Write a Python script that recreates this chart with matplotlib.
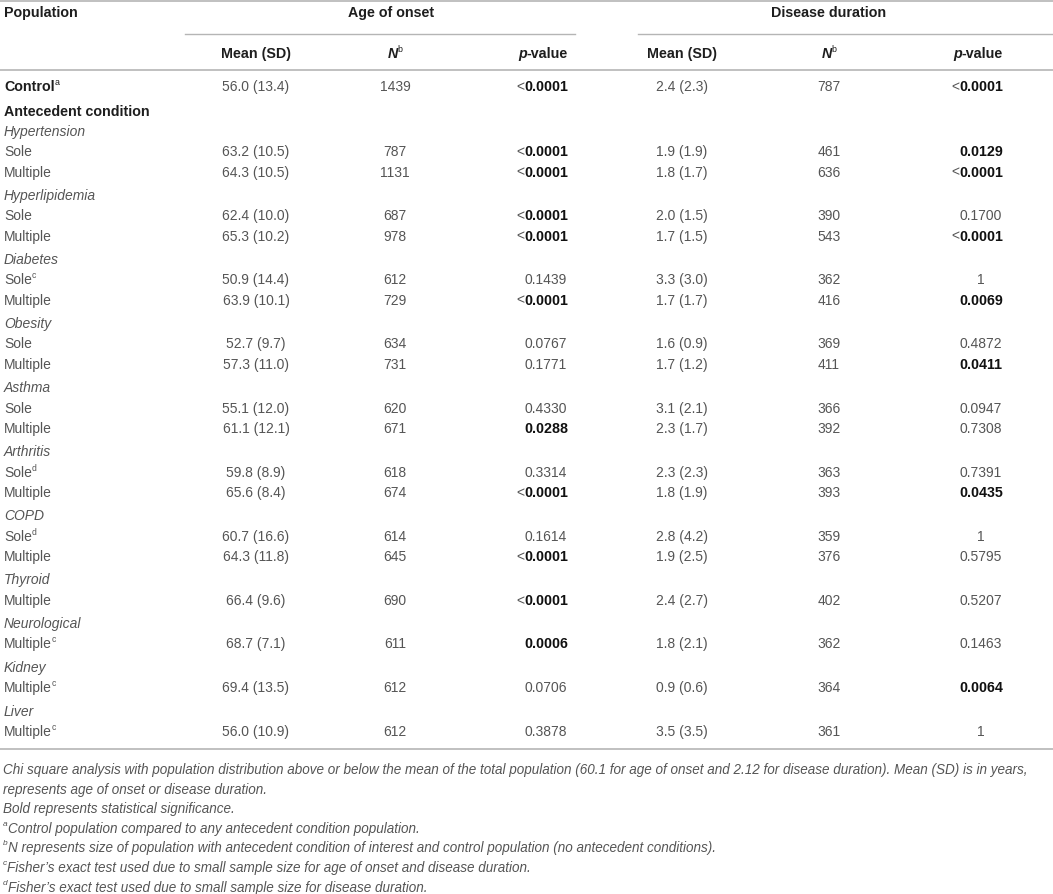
import matplotlib
matplotlib.use("Agg")
import matplotlib.pyplot as plt
from matplotlib import font_manager

# ---------------- data ----------------
control_label = "Control"
control_sup = "a"
control_age_mean = "56.0 (13.4)"
control_age_n = "1439"
control_age_p = "<0.0001"
control_dis_mean = "2.4 (2.3)"
control_dis_n = "787"
control_dis_p = "<0.0001"

groups = ["Hypertension", "Hyperlipidemia", "Diabetes", "Obesity", "Asthma",
          "Arthritis", "COPD", "Thyroid", "Neurological", "Kidney", "Liver"]

row_group = [0, 0, 1, 1, 2, 2, 3, 3, 4, 4, 5, 5, 6, 6, 7, 8, 9, 10]
row_label = ["Sole", "Multiple", "Sole", "Multiple", "Sole", "Multiple",
             "Sole", "Multiple", "Sole", "Multiple", "Sole", "Multiple",
             "Sole", "Multiple", "Multiple", "Multiple", "Multiple", "Multiple"]
row_sup = ["", "", "", "", "c", "", "", "", "", "", "d", "", "d", "", "", "c", "c", "c"]

age_mean = ["63.2 (10.5)", "64.3 (10.5)", "62.4 (10.0)", "65.3 (10.2)", "50.9 (14.4)",
            "63.9 (10.1)", "52.7 (9.7)", "57.3 (11.0)", "55.1 (12.0)", "61.1 (12.1)",
            "59.8 (8.9)", "65.6 (8.4)", "60.7 (16.6)", "64.3 (11.8)", "66.4 (9.6)",
            "68.7 (7.1)", "69.4 (13.5)", "56.0 (10.9)"]
age_n = ["787", "1131", "687", "978", "612", "729", "634", "731", "620", "671",
         "618", "674", "614", "645", "690", "611", "612", "612"]
age_p = ["<0.0001", "<0.0001", "<0.0001", "<0.0001", "0.1439", "<0.0001", "0.0767",
         "0.1771", "0.4330", "0.0288", "0.3314", "<0.0001", "0.1614", "<0.0001",
         "<0.0001", "0.0006", "0.0706", "0.3878"]

dis_mean = ["1.9 (1.9)", "1.8 (1.7)", "2.0 (1.5)", "1.7 (1.5)", "3.3 (3.0)", "1.7 (1.7)",
            "1.6 (0.9)", "1.7 (1.2)", "3.1 (2.1)", "2.3 (1.7)", "2.3 (2.3)", "1.8 (1.9)",
            "2.8 (4.2)", "1.9 (2.5)", "2.4 (2.7)", "1.8 (2.1)", "0.9 (0.6)", "3.5 (3.5)"]
dis_n = ["461", "636", "390", "543", "362", "416", "369", "411", "366", "392",
         "363", "393", "359", "376", "402", "362", "364", "361"]
dis_p = ["0.0129", "<0.0001", "0.1700", "<0.0001", "1", "0.0069", "0.4872", "0.0411",
         "0.0947", "0.7308", "0.7391", "0.0435", "1", "0.5795", "0.5207", "0.1463",
         "0.0064", "1"]

footnotes = [
    [("", "Chi square analysis with population distribution above or below the mean of the total population (60.1 for age of onset and 2.12 for disease duration). Mean (SD) is in years,")],
    [("", "represents age of onset or disease duration.")],
    [("", "Bold represents statistical significance.")],
    [("a", "Control population compared to any antecedent condition population.")],
    [("b", "N represents size of population with antecedent condition of interest and control population (no antecedent conditions).")],
    [("c", "Fisher\u2019s exact test used due to small sample size for age of onset and disease duration.")],
    [("d", "Fisher\u2019s exact test used due to small sample size for disease duration.")],
]

# ---------------- style ----------------
W, H = 1053, 895
names = {f.name for f in font_manager.fontManager.ttflist}
BODY = "Liberation Sans" if "Liberation Sans" in names else "DejaVu Sans"
NARROW = "Liberation Sans Narrow" if "Liberation Sans Narrow" in names else BODY

C_HEAD = "#1e1e1e"
C_BODY = "#555555"
C_SIG = "#111111"
C_LINE = "#b5b5b5"
FS = 10.0
FS_B = 10.3
FS_FOOT = 9.0

fig = plt.figure(figsize=(W / 100, H / 100), dpi=100)
ax = fig.add_axes([0, 0, 1, 1])
ax.set_xlim(0, W)
ax.set_ylim(H, 0)
ax.axis("off")
fig.canvas.draw()
renderer = fig.canvas.get_renderer()


def width_of(t):
    bb = t.get_window_extent(renderer)
    return bb.width


def runs(x, y, parts, ha="left"):
    """parts: list of (text, dict) ; dict may contain 'sup': True"""
    arts = []
    total = 0
    for s, kw in parts:
        kw = dict(kw)
        sup = kw.pop("sup", False)
        fs = kw.pop("fontsize", FS)
        if sup:
            fs = fs * 0.62
        t = ax.text(0, 0, s, fontsize=fs, va="center", ha="left",
                    family=kw.pop("family", BODY), **kw)
        w = width_of(t)
        arts.append((t, w, sup))
        total += w
    if ha == "left":
        cx = x
    elif ha == "center":
        cx = x - total / 2
    else:
        cx = x - total
    for t, w, sup in arts:
        t.set_position((cx, y - (4.5 if sup else 0)))
        cx += w
    return total


def pval(xc, y, s):
    less = s.startswith("<")
    num = s[1:] if less else s
    v = float(num)
    sig = v < 0.05
    kw = dict(fontsize=FS_B if sig else FS, color=C_SIG if sig else C_BODY,
              weight="bold" if sig else "normal")
    t = ax.text(xc, y, num, ha="center", va="center", family=BODY, **kw)
    if less:
        w = width_of(t)
        ax.text(xc - w / 2, y, "<", ha="right", va="center", family=BODY,
                fontsize=FS, color=C_BODY)


# column positions
X_LABEL = 4
X_AGE_MEAN, X_AGE_N, X_AGE_P = 256, 395, 546
X_DIS_MEAN, X_DIS_N, X_DIS_P = 682, 829, 981

# rules
ax.plot([0, W], [1.5, 1.5], color=C_LINE, lw=1.2)
ax.plot([185, 575], [35, 35], color=C_LINE, lw=1.0)
ax.plot([638, W], [35, 35], color=C_LINE, lw=1.0)
ax.plot([0, W], [71, 71], color=C_LINE, lw=1.2)
ax.plot([0, W], [750, 750], color=C_LINE, lw=1.2)

# header
hb = dict(fontsize=FS_B, weight="bold", color=C_HEAD)
runs(X_LABEL, 13, [("Population", hb)])
runs(X_AGE_N - 4, 13, [("Age of onset", hb)], ha="center")
runs(X_DIS_N, 13, [("Disease duration", hb)], ha="center")
for xm, xn, xp in [(X_AGE_MEAN, X_AGE_N, X_AGE_P), (X_DIS_MEAN, X_DIS_N, X_DIS_P)]:
    runs(xm, 54, [("Mean (SD)", hb)], ha="center")
    runs(xn, 54, [("N", dict(hb, style="italic")), ("b", dict(hb, weight="normal", sup=True))], ha="center")
    runs(xp + 22, 54, [("p", dict(hb, style="italic")), ("-value", hb)], ha="right")

body = dict(fontsize=FS, color=C_BODY)

# control row
yc = 87
runs(X_LABEL, yc, [(control_label, hb), (control_sup, dict(hb, weight="normal", sup=True))])
runs(X_AGE_MEAN, yc, [(control_age_mean, body)], ha="center")
runs(X_AGE_N, yc, [(control_age_n, body)], ha="center")
pval(X_AGE_P, yc, control_age_p)
runs(X_DIS_MEAN, yc, [(control_dis_mean, body)], ha="center")
runs(X_DIS_N, yc, [(control_dis_n, body)], ha="center")
pval(X_DIS_P, yc, control_dis_p)

runs(X_LABEL, 112, [("Antecedent condition", hb)])

# body rows
ROW = 20.18
GAP = 23.68
y = 112
prev_g = None
for i in range(len(row_label)):
    g = row_group[i]
    if g != prev_g:
        y += ROW if prev_g is None else GAP
        runs(X_LABEL, y, [(groups[g], dict(body, style="italic"))])
        prev_g = g
    y += ROW
    parts = [(row_label[i], body)]
    if row_sup[i]:
        parts.append((row_sup[i], dict(body, sup=True)))
    runs(X_LABEL, y, parts)
    runs(X_AGE_MEAN, y, [(age_mean[i], body)], ha="center")
    runs(X_AGE_N, y, [(age_n[i], body)], ha="center")
    pval(X_AGE_P, y, age_p[i])
    runs(X_DIS_MEAN, y, [(dis_mean[i], body)], ha="center")
    runs(X_DIS_N, y, [(dis_n[i], body)], ha="center")
    pval(X_DIS_P, y, dis_p[i])

# footnotes: fit first line to width of the table text
probe = ax.text(0, 0, footnotes[0][0][1], fontsize=FS_FOOT, family=NARROW, style="italic")
scale = 1033 / width_of(probe)
probe.remove()
fs_foot = FS_FOOT * scale
fk = dict(fontsize=fs_foot, family=NARROW, style="italic", color=C_BODY)
yf = 770
for line in footnotes:
    sup, txt = line[0]
    parts = []
    if sup:
        parts.append((sup, dict(fk, sup=True)))
    parts.append((txt, fk))
    runs(3, yf, parts)
    yf += 19.6

fig.savefig("out.png", dpi=100)
